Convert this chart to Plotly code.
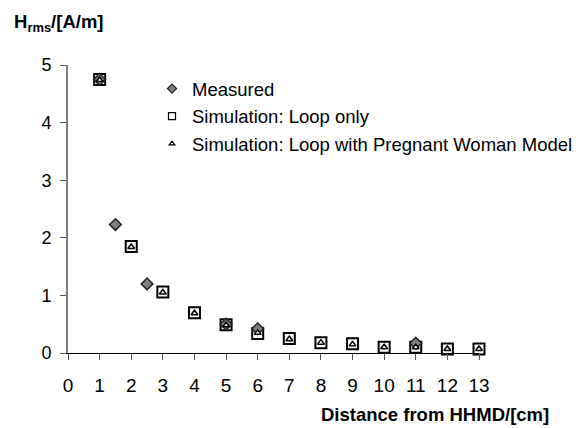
import plotly.graph_objects as go

# Data
meas_x = [1, 1.5, 2.5, 5, 6, 11]
meas_y = [4.75, 2.23, 1.20, 0.50, 0.42, 0.17]

sim_x = [1, 2, 3, 4, 5, 6, 7, 8, 9, 10, 11, 12, 13]
loop_y = [4.75, 1.85, 1.06, 0.70, 0.49, 0.34, 0.25, 0.18, 0.16, 0.10, 0.10, 0.07, 0.07]
preg_y = [4.74, 1.84, 1.05, 0.69, 0.48, 0.35, 0.24, 0.18, 0.15, 0.10, 0.10, 0.07, 0.07]

x_ticks = list(range(0, 14))
y_ticks = [0, 1, 2, 3, 4, 5]

FONT = "Arial, 'Liberation Sans', sans-serif"

fig = go.Figure()

fig.add_trace(go.Scatter(
    x=sim_x, y=loop_y, mode="markers", name="Simulation: Loop only",
    marker=dict(symbol="square", size=11, color="white", line=dict(color="black", width=2)),
    cliponaxis=False, showlegend=False))
fig.add_trace(go.Scatter(
    x=meas_x, y=meas_y, mode="markers", name="Measured",
    marker=dict(symbol="diamond", size=9, color="#808080", line=dict(color="#222222", width=1.5)),
    cliponaxis=False, showlegend=False))
fig.add_trace(go.Scatter(
    x=sim_x, y=preg_y, mode="markers", name="Simulation: Loop with Pregnant Woman Model",
    marker=dict(symbol="triangle-up", size=6, color="white", line=dict(color="black", width=1.5)),
    cliponaxis=False, showlegend=False))

# legend entries (small symbols as in the reference)
fig.add_trace(go.Scatter(
    x=[None], y=[None], mode="markers", name="Measured", legendgroup="a",
    marker=dict(symbol="diamond", size=7, color="#808080", line=dict(color="#222222", width=1.2))))
fig.add_trace(go.Scatter(
    x=[None], y=[None], mode="markers", name="Simulation: Loop only", legendgroup="b",
    marker=dict(symbol="square", size=7, color="white", line=dict(color="black", width=1.2))))
fig.add_trace(go.Scatter(
    x=[None], y=[None], mode="markers", name="Simulation: Loop with Pregnant Woman Model", legendgroup="c",
    marker=dict(symbol="triangle-up", size=5, color="white", line=dict(color="black", width=1.2))))

L, R, T, B = 68, 107, 65, 75
W, H = 586, 428
pw = W - L - R
ph = H - T - B

fig.update_layout(
    width=W, height=H,
    margin=dict(l=L, r=R, t=T, b=B, autoexpand=False),
    paper_bgcolor="white", plot_bgcolor="white",
    font=dict(family=FONT, color="black", size=16),
    showlegend=True,
    legend=dict(x=(152 - L) / pw, y=1 - (70 - T) / ph, xanchor="left", yanchor="top",
                font=dict(size=18.5, family=FONT), bgcolor="rgba(0,0,0,0)",
                tracegroupgap=0.5, borderwidth=0),
    xaxis=dict(range=[0, 13], tickvals=x_ticks, ticktext=[str(v) for v in x_ticks],
               showgrid=False, zeroline=False, showline=True, linecolor="black", linewidth=1,
               ticks="outside", ticklen=6, tickcolor="#555555", tickwidth=1,
               tickfont=dict(size=19, family=FONT), ticklabelstandoff=9),
    yaxis=dict(range=[0, 5], tickvals=y_ticks, ticktext=[str(v) for v in y_ticks],
               showgrid=False, zeroline=False, showline=True, linecolor="#808080", linewidth=2,
               ticks="outside", ticklen=6, tickcolor="#555555", tickwidth=1,
               tickfont=dict(size=18, family=FONT), ticklabelstandoff=5),
    annotations=[
        dict(text="<b>H<sub>rms</sub>/[A/m]</b>", xref="paper", yref="paper",
             x=(12 - L) / pw, y=1 + (T - 23) / ph, xanchor="left", yanchor="middle",
             showarrow=False, font=dict(size=18.5, family=FONT)),
        dict(text="<b>Distance from HHMD/[cm]</b>", xref="paper", yref="paper",
             x=(551 - L) / pw, y=-(414 - (H - B)) / ph, xanchor="right", yanchor="middle",
             showarrow=False, font=dict(size=18.5, family=FONT)),
    ],
)

fig.write_html("out.html")
